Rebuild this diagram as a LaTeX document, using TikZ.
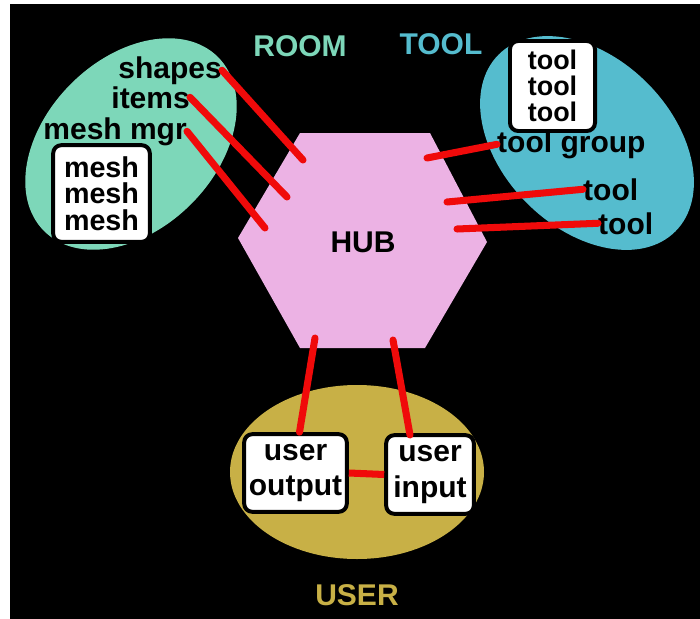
\documentclass[tikz,border=0pt]{standalone}
\usepackage{fontspec}
\setmainfont{Liberation Sans}
\usetikzlibrary{positioning}
\definecolor{roomgreen}{RGB}{125,215,185}
\definecolor{toolblue}{RGB}{85,188,206}
\definecolor{usergold}{RGB}{200,176,70}
\definecolor{hubpink}{RGB}{236,178,228}
\definecolor{wirered}{RGB}{240,10,10}
\tikzstyle{lbl} = [inner sep=0pt, font=\fontsize{25.6}{26}\selectfont\bfseries]
\tikzstyle{box} = [rectangle, rounded corners=7pt, draw=black, line width=3.4pt, fill=white, align=center, inner sep=0pt]
\tikzstyle{wire} = [line width=6pt, wirered, line cap=round]

\begin{document}
\begin{tikzpicture}[x=0.03cm, y=-0.03cm]
  \useasboundingbox (0,0) rectangle (700,619);
  \fill[black] (10,4) rectangle (700,619);

  % groups
  \fill[roomgreen, rotate around={45:(131,144)}] (131,144) ellipse (123 and 85);
  \fill[toolblue, rotate around={-45:(587,143)}] (587,143) ellipse (125 and 85);
  \fill[usergold] (357,472) ellipse (127 and 87);
  \fill[hubpink] (300,133) -- (430,133) -- (487,242) -- (425,348) -- (300,348) -- (238,238) -- cycle;

  \node (hub) [lbl] at (363,242) {HUB};
  \node (room) [lbl, text=roomgreen, anchor=base] at (300,57) {ROOM};
  \node (tool) [lbl, text=toolblue, anchor=base] at (441,55) {TOOL};
  \node (user) [lbl, text=usergold, anchor=base] at (357,605) {USER};

  % room side
  \node (shapes) [lbl, anchor=base east] at (222,78) {shapes};
  \node (items) [lbl, anchor=base east] at (190,108) {items};
  \node (meshmgr) [lbl, anchor=base east] at (187,139) {mesh mgr};
  \node (meshes) [box, minimum width=2.9cm, minimum height=2.9cm,
    font=\fontsize{24.5}{22.5}\selectfont\bfseries] at (101.5,193.5) {mesh\\mesh\\mesh};

  % tool side
  \node (tools) [box, minimum width=2.55cm, minimum height=2.7cm,
    font=\fontsize{23}{22}\selectfont\bfseries] at (552.5,86) {tool\\tool\\tool};
  \node (toolgroup) [lbl, anchor=base west] at (497,152) {tool group};
  \node (toolA) [lbl, anchor=base west] at (583,200) {tool};
  \node (toolB) [lbl, anchor=base west] at (598,234) {tool};

  % user side
  \node (uout) [box, minimum width=3.08cm, minimum height=2.33cm,
    font=\fontsize{25.6}{30}\selectfont\bfseries] at (295.5,473) {user\\output};
  \node (uin) [box, minimum width=2.63cm, minimum height=2.36cm,
    font=\fontsize{25.6}{30}\selectfont\bfseries] at (430,474.5) {user\\input};

  \coordinate (h1) at (303,160);
  \coordinate (h2) at (287,197);
  \coordinate (h3) at (265,228);
  \coordinate (h4) at (427,158);
  \coordinate (h5) at (447,202);
  \coordinate (h6) at (457,229);
  \coordinate (h7) at (315,338);
  \coordinate (h8) at (393,340);
  \coordinate (uinTop) at (410,435);

  \draw [wire] (shapes.east) -- (h1);
  \draw [wire] (items.east) -- (h2);
  \draw [wire] (meshmgr.east) -- (h3);
  \draw [wire] (toolgroup.west) -- (h4);
  \draw [wire] (toolA.west) -- (h5);
  \draw [wire] (toolB.west) -- (h6);
  \draw [wire] (h7) -- ([xshift=0.12cm]uout.north);
  \draw [wire] (h8) -- (uinTop);
  \draw [wire, line cap=butt] (uout.east) -- (uin.west);
\end{tikzpicture}
\end{document}
